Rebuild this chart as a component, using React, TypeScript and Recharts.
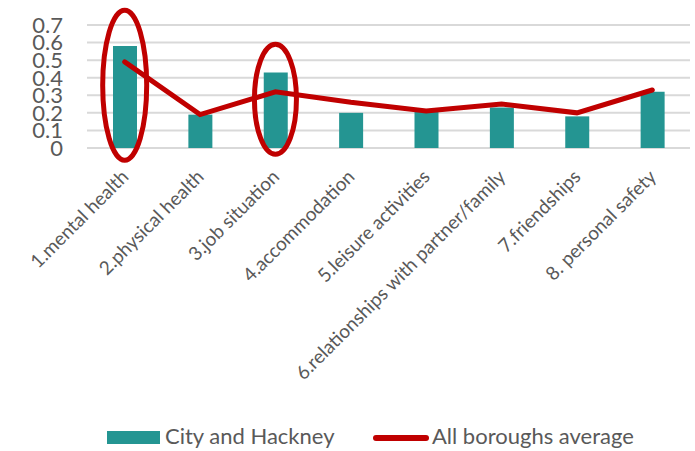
import { ComposedChart, Bar, Line, XAxis, YAxis, CartesianGrid, ReferenceDot } from 'recharts';

const categories = [
  '1.mental health',
  '2.physical health',
  '3.job situation',
  '4.accommodation',
  '5.leisure activities',
  '6.relationships with partner/family',
  '7.friendships',
  '8. personal safety',
];
const cityAndHackney = [0.58, 0.19, 0.43, 0.2, 0.21, 0.23, 0.18, 0.32];
const allBoroughs = [0.49, 0.19, 0.32, 0.26, 0.21, 0.25, 0.2, 0.33];
const yTicks = [0, 0.1, 0.2, 0.3, 0.4, 0.5, 0.6, 0.7];

// highlighted categories: centre value and ellipse radii
const highlights = [
  { cat: '1.mental health', y: 0.357, rx: 22, ry: 75 },
  { cat: '3.job situation', y: 0.277, rx: 21, ry: 55 },
];

const TEAL = '#249592';
const RED = '#C00000';
const GREY = '#595959';
const FONT = 'Lato, "Open Sans", sans-serif';

const data = categories.map((c, i) => ({
  name: c,
  city: cityAndHackney[i],
  avg: allBoroughs[i],
}));

const XTick = (props: any) => {
  const { x, y, payload } = props;
  return (
    <g transform={`translate(${x + 5},${y + 28})`}>
      <text textAnchor="end" transform="rotate(-45)" fill={GREY} fontSize={19} fontFamily={FONT}>
        {payload.value}
      </text>
    </g>
  );
};

export default function App() {
  return (
    <div style={{ position: 'absolute', left: 0, top: 0, width: 695, height: 451, background: '#fff' }}>
      <ComposedChart width={695} height={451} data={data} margin={{ top: 25, right: 5, left: 0, bottom: 0 }}>
        <CartesianGrid vertical={false} stroke="#d9d9d9" strokeWidth={2} />
        <XAxis
          dataKey="name"
          axisLine={false}
          tickLine={false}
          tickSize={0}
          height={303}
          interval={0}
          tick={<XTick />}
        />
        <YAxis
          domain={[0, 0.7]}
          ticks={yTicks}
          interval={0}
          width={87}
          axisLine={false}
          tickLine={false}
          tickSize={0}
          tickMargin={24}
          tick={{ fill: GREY, fontSize: 22, fontFamily: FONT }}
        />
        <Bar dataKey="city" fill={TEAL} barSize={24} isAnimationActive={false} />
        <Line
          dataKey="avg"
          type="linear"
          stroke={RED}
          strokeWidth={5}
          strokeLinecap="round"
          dot={false}
          activeDot={false}
          isAnimationActive={false}
        />
        {highlights.map(h => (
          <ReferenceDot
            key={h.cat}
            x={h.cat}
            y={h.y}
            ifOverflow="visible"
            shape={(p: any) => (
              <ellipse cx={p.cx} cy={p.cy} rx={h.rx} ry={h.ry} fill="none" stroke={RED} strokeWidth={5} />
            )}
          />
        ))}
      </ComposedChart>
      <div style={{ position: 'absolute', left: 107, top: 431, width: 53, height: 13, background: TEAL }} />
      <div style={{ position: 'absolute', left: 165, top: 422, fontFamily: FONT, fontSize: 22, color: GREY, whiteSpace: 'nowrap' }}>
        City and Hackney
      </div>
      <div style={{ position: 'absolute', left: 373, top: 435, width: 56, height: 6, borderRadius: 3, background: RED }} />
      <div style={{ position: 'absolute', left: 432, top: 422, fontFamily: FONT, fontSize: 22, color: GREY, whiteSpace: 'nowrap' }}>
        All boroughs average
      </div>
    </div>
  );
}
